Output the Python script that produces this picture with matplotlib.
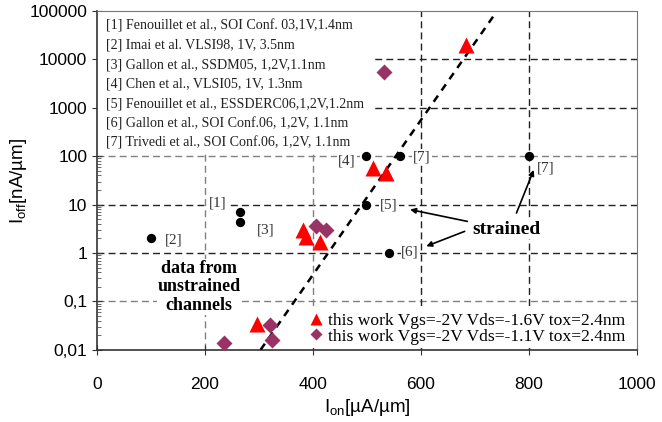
import numpy as np
import matplotlib
matplotlib.use('Agg')
import matplotlib.pyplot as plt

plt.rcParams['font.family'] = ['Liberation Sans', 'DejaVu Sans']
plt.rcParams['mathtext.fontset'] = 'custom'
plt.rcParams['mathtext.rm'] = 'Liberation Sans'

# literature points (black dots)
ref_ion = [265, 265, 100, 498, 498, 540, 561, 800]
ref_ioff = [7, 4.3, 2, 100, 10, 1, 100, 100]

# this work, Vds=-1.6V (red triangles)
w16_ion = [296, 381, 387, 413, 511, 535, 683]
w16_ioff = [0.034, 3.05, 2.1, 1.67, 58, 45, 20000]

# this work, Vds=-1.1V (purple diamonds)
w11_ion = [236, 320, 325, 405, 424, 531]
w11_ioff = [0.014, 0.033, 0.016, 3.6, 2.95, 5500]

# trend line
fit_ion = [303, 735]
fit_ioff = [0.01, 80000]

refs = ['[1] Fenouillet et al., SOI Conf. 03,1V,1.4nm',
        '[2] Imai et al. VLSI98, 1V, 3.5nm',
        '[3] Gallon et al., SSDM05, 1,2V,1.1nm',
        '[4] Chen et al., VLSI05, 1V, 1.3nm',
        '[5] Fenouillet et al., ESSDERC06,1,2V,1.2nm',
        '[6] Gallon et al., SOI Conf.06, 1,2V, 1.1nm',
        '[7] Trivedi et al., SOI Conf.06, 1,2V, 1.1nm']

# reference tags next to the dots
tag_text = ['[1]', '[2]', '[3]', '[4]', '[5]', '[6]', '[7]', '[7]']
tag_x = [224, 142, 312, 463, 541, 580, 602, 831]
tag_y = [11, 1.9, 3.05, 78, 10, 1.04, 98, 58]

yticks = [0.01, 0.1, 1, 10, 100, 1000, 10000, 100000]
ylabels = ['0,01', '0,1', '1', '10', '100', '1000', '10000', '100000']
xticks = [0, 200, 400, 600, 800, 1000]

fig = plt.figure(figsize=(6.62, 4.22), dpi=100)
ax = fig.add_axes([0.1465, 0.171, 0.8155, 0.803])
ax.set_yscale('log')
ax.set_xlim(0, 1000)
ax.set_ylim(0.01, 100000)

# grid: some lines dark, some grey
dark = '#222222'
grey = '#808080'
hcol = {0.1: grey, 1: dark, 10: dark, 100: grey, 1000: dark, 10000: dark}
for v, c in hcol.items():
    ax.axhline(v, color=c, lw=1, dashes=(5, 3), zorder=1)
vcol = {200: grey, 400: grey, 600: dark, 800: dark}
for v, c in vcol.items():
    ax.axvline(v, color=c, lw=1, dashes=(5, 3), zorder=1)

# white box behind the reference list
ax.add_patch(plt.Rectangle((0, 0.578), 0.51, 0.422, transform=ax.transAxes,
                           facecolor='white', edgecolor='none', zorder=2))
for i, s in enumerate(refs):
    ax.text(0.016, 0.957 - i * 0.0578, s, transform=ax.transAxes,
            family='Liberation Serif', fontsize=10.1, color='#222222',
            va='center', ha='left', zorder=3)

ax.plot(fit_ion, fit_ioff, color='black', lw=1.8, dashes=(3, 2.5), zorder=3)

ax.plot(ref_ion, ref_ioff, 'o', color='black', ms=6.7, mec='none', zorder=4)
l1, = ax.plot(w16_ion, w16_ioff, '^', color='#ff0000', ms=11, mec='none', zorder=5)
l2, = ax.plot(w11_ion, w11_ioff, 'D', color='#993366', ms=8, mec='none', zorder=5)

wb = dict(facecolor='white', edgecolor='none', pad=0.6)
for t, x, y in zip(tag_text, tag_x, tag_y):
    ax.text(x, y, t, family='Liberation Serif', fontsize=11, color='#333333',
            ha='center', va='center', bbox=wb, zorder=3.5)

ax.text(758, 3.05, 'strained', family='Liberation Serif', fontsize=14,
        fontweight='bold', ha='center', va='center', bbox=wb, zorder=3.5)
ax.text(189, 0.2, 'data from\nunstrained\nchannels', family='Liberation Serif',
        fontsize=13, fontweight='bold', ha='center', va='center',
        linespacing=1.1, bbox=wb, zorder=3.5)

arr = dict(arrowstyle='-|>', color='black', lw=1.2, mutation_scale=8,
           shrinkA=0, shrinkB=0)
ax.annotate('', xy=(580, 7.9), xytext=(686, 4.5), arrowprops=arr, zorder=4)
ax.annotate('', xy=(610, 1.38), xytext=(681, 2.8), arrowprops=arr, zorder=4)
ax.annotate('', xy=(809, 52), xytext=(777, 6.7), arrowprops=arr, zorder=4)

leg = ax.legend([l1, l2], ['this work Vgs=-2V Vds=-1.6V tox=2.4nm',
                           'this work Vgs=-2V Vds=-1.1V tox=2.4nm'],
                loc='lower left', bbox_to_anchor=(0.385, 0.0), frameon=True,
                prop={'family': 'Liberation Serif', 'size': 12.6},
                handlelength=0.7, handletextpad=0.35, labelspacing=-0.05,
                borderpad=0.2, borderaxespad=0.1, markerscale=0.8)
leg.get_frame().set_facecolor('white')
leg.get_frame().set_edgecolor('none')
leg.get_frame().set_alpha(1)
leg.set_zorder(3.5)

ax.set_yticks(yticks)
ax.set_yticklabels(ylabels)
ax.set_xticks(xticks)
ax.tick_params(axis='both', which='major', direction='inout', length=7,
               labelsize=12.5, color='#333333')
ax.tick_params(axis='y', which='minor', direction='in', length=3, color='#555555')
ax.tick_params(axis='x', pad=16)

for s in ['top', 'right']:
    ax.spines[s].set_color('#777777')
for s in ['left', 'bottom']:
    ax.spines[s].set_color('#333333')
    ax.spines[s].set_linewidth(1.2)

ax.set_xlabel(r'I$_{\mathregular{on}}$[µA/µm]', fontsize=13.5, labelpad=4)
ax.set_ylabel(r'I$_{\mathregular{off}}$[nA/µm]', fontsize=13.5, labelpad=0)

fig.savefig('out.png', dpi=100)
